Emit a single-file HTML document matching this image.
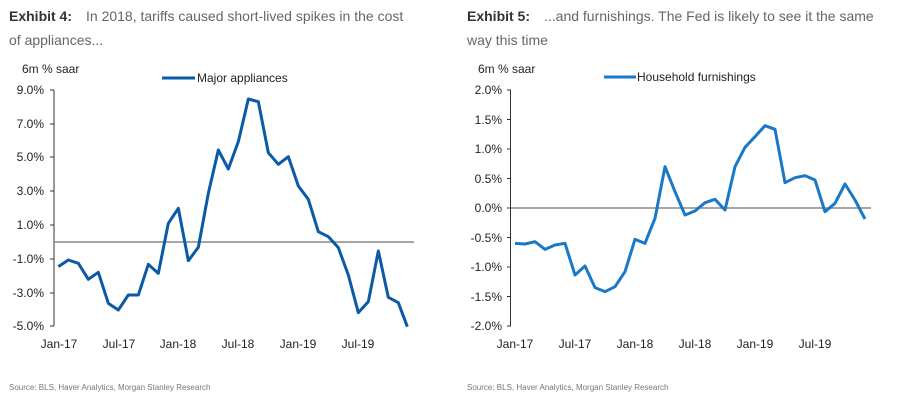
<!DOCTYPE html>
<html><head><meta charset="utf-8"><style>
html,body{margin:0;padding:0;background:#fff;width:917px;height:412px;overflow:hidden}
svg{display:block}
text{font-family:"Liberation Sans",sans-serif}
</style></head><body>
<svg width="917" height="412" viewBox="0 0 917 412">
<!-- Titles -->
<text x="9" y="21" font-size="14" fill="#666"><tspan font-weight="bold" fill="#333">Exhibit 4:</tspan><tspan x="86">In 2018, tariffs caused short-lived spikes in the cost</tspan></text>
<text x="9" y="45" font-size="14" fill="#666">of appliances...</text>
<text x="467" y="21" font-size="14" fill="#666"><tspan font-weight="bold" fill="#333">Exhibit 5:</tspan><tspan x="544">...and furnishings. The Fed is likely to see it the same</tspan></text>
<text x="467" y="45" font-size="14" fill="#666">way this time</text>

<!-- LEFT CHART -->
<g font-size="12" fill="#222">
<text x="22" y="73">6m % saar</text>
<line x1="162" y1="78" x2="195" y2="78" stroke="#0a5aa8" stroke-width="3"/>
<text x="197" y="82">Major appliances</text>
<g text-anchor="end">
<text x="44" y="94">9.0%</text>
<text x="44" y="128">7.0%</text>
<text x="44" y="161">5.0%</text>
<text x="44" y="195">3.0%</text>
<text x="44" y="229">1.0%</text>
<text x="44" y="263">-1.0%</text>
<text x="44" y="297">-3.0%</text>
<text x="44" y="330">-5.0%</text>
</g>
<g text-anchor="middle">
<text x="59" y="348">Jan-17</text>
<text x="119" y="348">Jul-17</text>
<text x="178" y="348">Jan-18</text>
<text x="238" y="348">Jul-18</text>
<text x="298" y="348">Jan-19</text>
<text x="358" y="348">Jul-19</text>
</g>
</g>
<line x1="54" y1="90" x2="54" y2="326" stroke="#333" stroke-width="1"/>
<g stroke="#333"><line x1="50" y1="90" x2="54" y2="90"/><line x1="50" y1="124" x2="54" y2="124"/><line x1="50" y1="157" x2="54" y2="157"/><line x1="50" y1="191" x2="54" y2="191"/><line x1="50" y1="225" x2="54" y2="225"/><line x1="50" y1="259" x2="54" y2="259"/><line x1="50" y1="293" x2="54" y2="293"/><line x1="50" y1="326" x2="54" y2="326"/></g>
<line x1="54" y1="242" x2="414" y2="242" stroke="#888" stroke-width="1.5"/>
<g transform="translate(0 60) scale(0.33333)">
<polyline fill="none" stroke="#0a5aa8" stroke-width="9" stroke-linejoin="round" points="175,620 205,600 235,610 265,658 295,637 325,730 355,750 385,705 415,705 445,613 475,640 505,490 535,445 565,602 595,562 625,400 655,270 685,327 715,245 745,117 775,125 805,278 835,313 865,290 895,378 925,418 955,515 985,530 1015,563 1045,645 1075,758 1105,725 1135,573 1165,712 1195,728 1222,800"/>
</g>

<!-- RIGHT CHART -->
<g font-size="12" fill="#222">
<text x="478" y="73">6m % saar</text>
<line x1="604" y1="77" x2="636" y2="77" stroke="#1a78c8" stroke-width="3"/>
<text x="637" y="81">Household furnishings</text>
<g text-anchor="end">
<text x="502" y="94">2.0%</text>
<text x="502" y="124">1.5%</text>
<text x="502" y="153">1.0%</text>
<text x="502" y="183">0.5%</text>
<text x="502" y="212">0.0%</text>
<text x="502" y="271">-1.0%</text>
<text x="502" y="242">-0.5%</text>
<text x="502" y="301">-1.5%</text>
<text x="502" y="330">-2.0%</text>
</g>
<g text-anchor="middle">
<text x="515" y="348">Jan-17</text>
<text x="575" y="348">Jul-17</text>
<text x="635" y="348">Jan-18</text>
<text x="695" y="348">Jul-18</text>
<text x="755" y="348">Jan-19</text>
<text x="815" y="348">Jul-19</text>
</g>
</g>
<line x1="510.5" y1="90" x2="510.5" y2="326" stroke="#333" stroke-width="1"/>
<g stroke="#333"><line x1="507" y1="90" x2="511" y2="90"/><line x1="507" y1="119.5" x2="511" y2="119.5"/><line x1="507" y1="149" x2="511" y2="149"/><line x1="507" y1="178.5" x2="511" y2="178.5"/><line x1="507" y1="208" x2="511" y2="208"/><line x1="507" y1="237.5" x2="511" y2="237.5"/><line x1="507" y1="267" x2="511" y2="267"/><line x1="507" y1="296.5" x2="511" y2="296.5"/><line x1="507" y1="326" x2="511" y2="326"/></g>
<line x1="511" y1="208" x2="871" y2="208" stroke="#888" stroke-width="1.5"/>
<g transform="translate(460 60) scale(0.33333)">
<polyline fill="none" stroke="#1a78c8" stroke-width="9" stroke-linejoin="round" points="165,550 195,552 225,545 255,568 285,555 315,550 345,645 375,618 405,683 435,695 465,680 495,635 525,538 555,550 585,475 615,320 645,395 675,465 705,453 735,428 765,418 795,450 825,320 855,262 885,230 915,197 945,208 975,368 1005,353 1035,347 1065,360 1095,455 1125,430 1155,372 1185,420 1215,477"/>
</g>

<text x="9" y="390" font-size="8" fill="#777">Source: BLS, Haver Analytics, Morgan Stanley Research</text>
<text x="467" y="390" font-size="8" fill="#777">Source: BLS, Haver Analytics, Morgan Stanley Research</text>
</svg>
</body></html>
